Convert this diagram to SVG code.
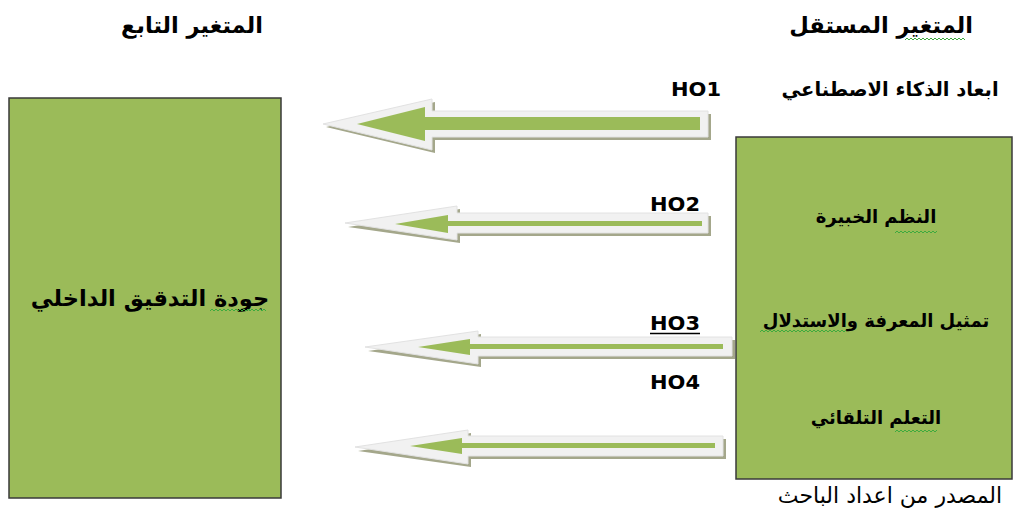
<svg xmlns="http://www.w3.org/2000/svg" width="1014" height="514" viewBox="0 0 1014 514">
<defs>
<style>
.box{fill:#9BBB59;stroke:#3a3a3a;stroke-width:1.5}
.ar{font-family:"DejaVu Sans","Noto Sans",sans-serif;fill:#000}
.b{font-weight:bold}
.ho{font-family:"DejaVu Sans","Liberation Sans",sans-serif;font-weight:bold;font-size:19px;fill:#000}
.sh{fill:#A4A78B}
.out{fill:#F1F1F1;stroke:#E2E2E2;stroke-width:1}
.gr{fill:#9BBB59}
.sq{fill:none;stroke:#3DAA3D;stroke-width:1}
</style>
</defs>
<rect width="1014" height="514" fill="#fff"/>

<text class="ar b" x="881" y="33" font-size="22.5" text-anchor="middle" direction="rtl">المتغير المستقل</text>
<text class="ar b" x="192" y="33" font-size="22.5" text-anchor="middle" direction="rtl">المتغير التابع</text>
<text class="ar b" x="890" y="96" font-size="19.5" text-anchor="middle" direction="rtl">ابعاد الذكاء الاصطناعي</text>

<g id="node-dependent">
<rect class="box" x="9" y="98" width="272" height="400"/>
<text class="ar b" x="150" y="306" font-size="22.5" text-anchor="middle" direction="rtl">جودة التدقيق الداخلي</text>
</g>

<g id="node-independent">
<rect class="box" x="736" y="137" width="276" height="342"/>
<text class="ar b" x="876" y="223" font-size="18" text-anchor="middle" direction="rtl">النظم الخبيرة</text>
<text class="ar b" x="876" y="327" font-size="18" text-anchor="middle" direction="rtl">تمثيل المعرفة والاستدلال</text>
<text class="ar b" x="876" y="424" font-size="18" text-anchor="middle" direction="rtl">التعلم التلقائي</text>
</g>

<g id="connectors">
<g id="arrow-ho1">
<polygon class="sh" points="711,114 435,114 435,102 326,127 435,153 435,140 711,140"/>
<polygon class="out" points="708,111 432,111 432,99 323,124 432,150 432,137 708,137"/>
<polygon class="gr" points="700,117 425,117 425,107 357,124 425,141 425,130 700,130"/>
</g>
<g id="arrow-ho2">
<polygon class="sh" points="711,216 460,216 460,209 348,227 460,243 460,236 711,236"/>
<polygon class="out" points="708,213 457,213 457,206 345,223 457,240 457,233 708,233"/>
<polygon class="gr" points="702,221 448,221 448,215 395,224 448,233 448,226 702,226"/>
</g>
<g id="arrow-ho3">
<polygon class="sh" points="735,340 481,340 481,334 368,351 481,367 481,359 735,359"/>
<polygon class="out" points="732,337 478,337 478,331 365,347 478,364 478,356 732,356"/>
<polygon class="gr" points="723,344 470,344 470,339 418,347 470,355 470,349 723,349"/>
</g>
<g id="arrow-ho4">
<polygon class="sh" points="726,439 471,439 471,433 358,451 471,467 471,459 726,459"/>
<polygon class="out" points="723,436 468,436 468,430 355,447 468,464 468,456 723,456"/>
<polygon class="gr" points="715,443 462,443 462,438 410,446 462,454 462,448 715,448"/>
</g>
</g>

<text class="ho" x="671" y="96" textLength="50" lengthAdjust="spacingAndGlyphs">HO1</text>
<text class="ho" x="650" y="211" textLength="50" lengthAdjust="spacingAndGlyphs">HO2</text>
<text class="ho" x="650" y="330" textLength="50" lengthAdjust="spacingAndGlyphs">HO3</text>
<line x1="650" y1="333.5" x2="700" y2="333.5" stroke="#000" stroke-width="1.5"/>
<text class="ho" x="650" y="389" textLength="50" lengthAdjust="spacingAndGlyphs">HO4</text>

<text class="ar" x="890" y="503" font-size="22" text-anchor="middle" direction="rtl">المصدر من اعداد الباحث</text>

<path class="sq" d="M905,40 l2,-2 l2,2 l2,-2 l2,2 l2,-2 l2,2 l2,-2 l2,2 l2,-2 l2,2 l2,-2 l2,2 l2,-2 l2,2 l2,-2 l2,2 l2,-2 l2,2 l2,-2 l2,2 l2,-2 l2,2 l2,-2 l2,2 l2,-2 l2,2 l2,-2 l2,2 l2,-2 l2,2"/>
<path class="sq" d="M210,311 l2,-2 l2,2 l2,-2 l2,2 l2,-2 l2,2 l2,-2 l2,2 l2,-2 l2,2 l2,-2 l2,2 l2,-2 l2,2 l2,-2 l2,2 l2,-2 l2,2 l2,-2 l2,2 l2,-2 l2,2 l2,-2 l2,2 l2,-2 l2,2 l2,-2 l2,2"/>
<path class="sq" d="M895,233 l2,-2 l2,2 l2,-2 l2,2 l2,-2 l2,2 l2,-2 l2,2 l2,-2 l2,2 l2,-2 l2,2 l2,-2 l2,2 l2,-2 l2,2 l2,-2 l2,2 l2,-2 l2,2 l2,-2"/>
<path class="sq" d="M760,332 l2,-2 l2,2 l2,-2 l2,2 l2,-2 l2,2 l2,-2 l2,2 l2,-2 l2,2 l2,-2 l2,2 l2,-2 l2,2 l2,-2 l2,2 l2,-2 l2,2 l2,-2 l2,2 l2,-2 l2,2 l2,-2 l2,2 l2,-2 l2,2 l2,-2 l2,2 l2,-2 l2,2 l2,-2 l2,2 l2,-2 l2,2 l2,-2 l2,2 l2,-2 l2,2 l2,-2 l2,2 l2,-2 l2,2 l2,-2"/>
<path class="sq" d="M895,432 l2,-2 l2,2 l2,-2 l2,2 l2,-2 l2,2 l2,-2 l2,2 l2,-2 l2,2 l2,-2 l2,2 l2,-2 l2,2 l2,-2 l2,2 l2,-2 l2,2 l2,-2 l2,2 l2,-2"/>
</svg>
